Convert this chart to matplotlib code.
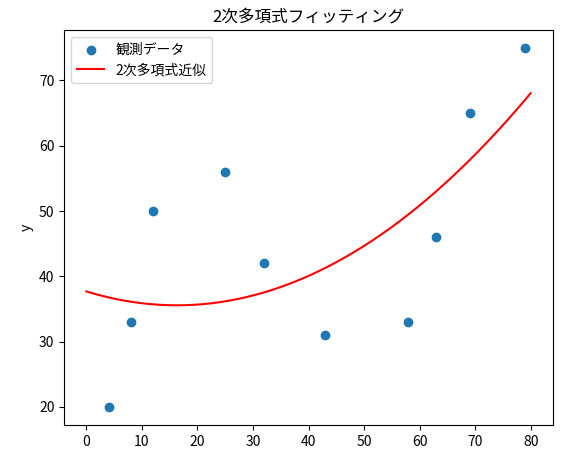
import numpy as np
import matplotlib
matplotlib.use("Agg")
import matplotlib.pyplot as plt

plt.rcParams['font.family'] = ['Noto Sans CJK JP', 'DejaVu Sans']

x = np.array([4, 8, 12, 25, 32, 43, 58, 63, 69, 79])
y = np.array([20, 33, 50, 56, 42, 31, 33, 46, 65, 75])

coef = np.polyfit(x, y, 2)
xs = np.linspace(0, 80, 200)
ys = np.polyval(coef, xs)

fig, ax = plt.subplots(figsize=(5.63, 4.53), dpi=100)
ax.scatter(x, y, label="観測データ")
ax.plot(xs, ys, color="red", label="2次多項式近似")
ax.set_xlabel("x")
ax.set_ylabel("y")
ax.set_title("2次多項式フィッティング")
ax.legend(loc="upper left")
fig.subplots_adjust(left=0.114, right=0.982, top=0.934, bottom=0.062)
fig.savefig("out.png")
